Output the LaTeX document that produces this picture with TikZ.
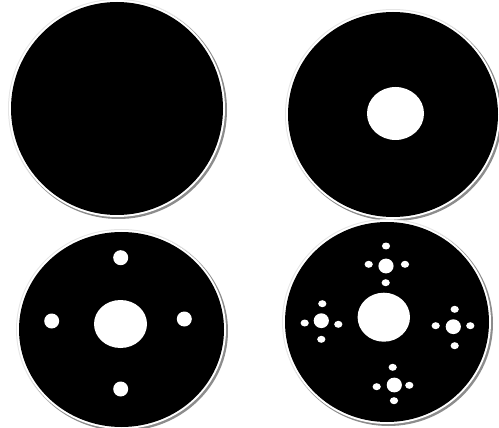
\documentclass[tikz,border=0pt]{standalone}
\newcommand\mydisc[4]{% cx, cy, rx, ry
  \fill[ringlight] (#1,#2) ellipse [x radius=#3+3, y radius=#4+3];
  \fill[ringshadow] (#1+1.5,#2+1.5) ellipse [x radius=#3+2.5, y radius=#4+2.5];
  \fill[white] (#1,#2) ellipse [x radius=#3+2, y radius=#4+2];
  \fill[black] (#1,#2) ellipse [x radius=#3, y radius=#4];
}
\newcommand\myhole[4]{\fill[white] (#1,#2) ellipse [x radius=#3, y radius=#4];}
\tikzset{ringlight/.style={fill=black!10}, ringshadow/.style={fill=black!45}}
\begin{document}
\begin{tikzpicture}[x=1pt,y=-1pt]
\useasboundingbox (0,0) rectangle (499,428);
% top-left
\mydisc{117}{108.5}{106}{106.5}
% top-right
\mydisc{393}{114.5}{105}{102.5}
\myhole{395.5}{113.5}{28.5}{26.5}
% bottom-left
\mydisc{121.5}{329.5}{102.5}{97.5}
\myhole{120.5}{324}{26.5}{24}
\myhole{120.7}{257.7}{7.5}{7.5}
\myhole{51.7}{321}{7.5}{7.5}
\myhole{184.3}{319}{7.5}{7.5}
\myhole{120.7}{389}{7.5}{7.5}
% bottom-right
\mydisc{387}{322}{102}{100}
\myhole{383.8}{317.2}{26.2}{24.5}
% top cluster
\myhole{386}{266}{7.6}{7.4}
\myhole{386}{246}{4.1}{3.5}
\myhole{368.7}{264.3}{4.1}{3.5}
\myhole{405}{264.3}{4.1}{3.5}
\myhole{385.7}{282.7}{4.1}{3.5}
% left cluster
\myhole{321.3}{320.7}{7.6}{7.4}
\myhole{322.3}{303.7}{4.1}{3.5}
\myhole{321.3}{339.3}{4.1}{3.5}
\myhole{304.7}{323}{4.1}{3.5}
\myhole{338.3}{324.3}{4.1}{3.5}
% right cluster
\myhole{453.3}{326.7}{7.6}{7.4}
\myhole{454.7}{309.3}{4.1}{3.5}
\myhole{454.7}{345.7}{4.1}{3.5}
\myhole{435.7}{325.7}{4.1}{3.5}
\myhole{470.3}{325.7}{4.1}{3.5}
% bottom cluster
\myhole{394.3}{385}{7.6}{7.4}
\myhole{392.7}{367.3}{4.1}{3.5}
\myhole{394}{400.7}{4.1}{3.5}
\myhole{376.7}{386.7}{4.1}{3.5}
\myhole{409.3}{385.3}{4.1}{3.5}
\end{tikzpicture}
\end{document}
